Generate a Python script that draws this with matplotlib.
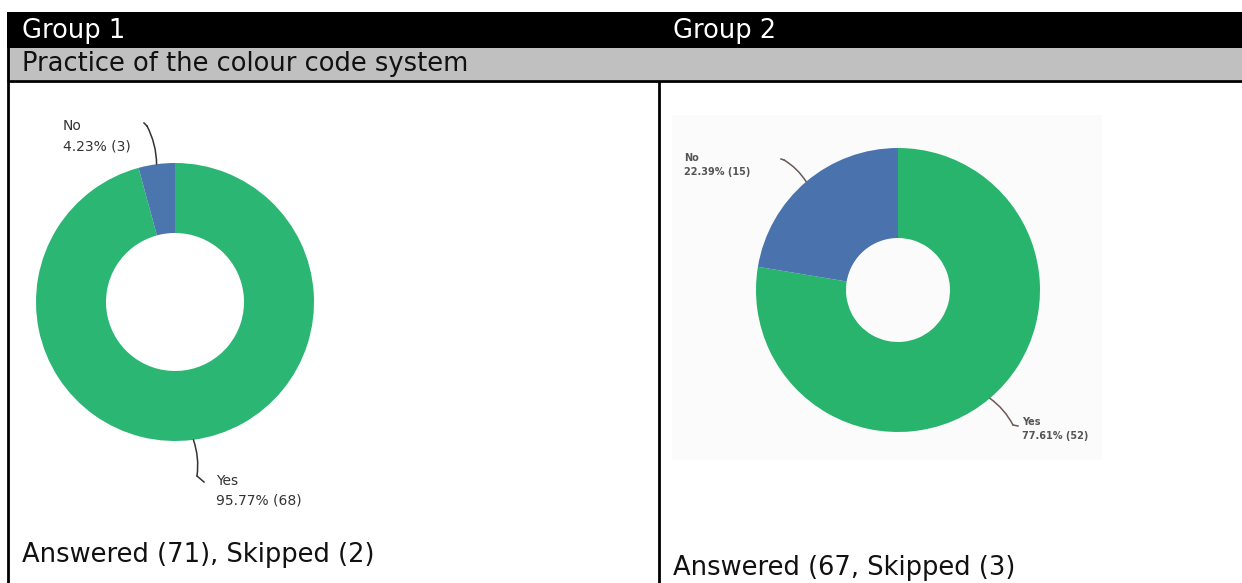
import matplotlib.pyplot as plt
from matplotlib.patches import Rectangle
import numpy as np

# survey answers: practice of the colour code system
answers = ['Yes', 'No']
group1_counts = [68, 3]
group1_pct = [95.77, 4.23]
group2_counts = [52, 15]
group2_pct = [77.61, 22.39]

headers = ['Group 1', 'Group 2']
question = 'Practice of the colour code system'
footers = ['Answered (71), Skipped (2)', 'Answered (67, Skipped (3)']

W, H = 1242, 583
fig = plt.figure(figsize=(W / 100, H / 100), dpi=100)
fig.patch.set_facecolor('white')

# table frame drawn in pixel units
tab = fig.add_axes([0, 0, 1, 1])
tab.set_xlim(0, W)
tab.set_ylim(H, 0)
tab.axis('off')

tab.add_patch(Rectangle((7, 12), W - 7, 36, color='black', lw=0))
tab.add_patch(Rectangle((7, 48), W - 7, 32, color='#c0c0c0', lw=0))
tab.plot([7, W], [81, 81], color='black', lw=2, solid_capstyle='butt')
tab.plot([8, 8], [12, H], color='black', lw=2, solid_capstyle='butt')
tab.plot([659, 659], [81, H], color='black', lw=2, solid_capstyle='butt')
# faint backdrop of the pasted group 2 chart
tab.add_patch(Rectangle((672, 115), 430, 345, color='#fbfbfb', lw=0))

hfont = 'DejaVu Sans'
hsize = 18.5
tab.text(22, 31, headers[0], color='white', fontsize=hsize, family=hfont, va='center')
tab.text(673, 31, headers[1], color='white', fontsize=hsize, family=hfont, va='center')
tab.text(22, 64, question, color='#111111', fontsize=hsize, family=hfont, va='center')
tab.text(22, 555, footers[0], color='#111111', fontsize=hsize, family=hfont, va='center')
tab.text(673, 568, footers[1], color='#111111', fontsize=hsize, family=hfont, va='center')


def donut(cx, cy, r, inner, counts, pct, colors, lab_pos, elbows, hooks,
          fsize, tcolor, lcolor, weight, lsp):
    ax = fig.add_axes([(cx - r) / W, 1 - (cy + r) / H, 2 * r / W, 2 * r / H])
    wedges, _ = ax.pie(counts, colors=colors, startangle=90, counterclock=False,
                       radius=1, wedgeprops=dict(width=1 - inner / r, lw=0))
    ax.set_xlim(-1, 1)
    ax.set_ylim(-1, 1)
    ax.axis('off')

    def px(x, y):
        return ((x - cx) / r, (cy - y) / r)

    for i, w in enumerate(wedges):
        ang = np.deg2rad((w.theta1 + w.theta2) / 2)
        tip = (np.cos(ang), np.sin(ang))
        ex, ey = px(*elbows[i])
        ax.annotate('', xy=tip, xytext=(ex, ey), annotation_clip=False,
                    arrowprops=dict(arrowstyle='-', color=lcolor, lw=1.1,
                                    shrinkA=0, shrinkB=0,
                                    connectionstyle='arc3,rad=-0.12' if i else 'arc3,rad=0.12'))
        hx, hy = px(*hooks[i])
        ax.plot([ex, hx], [ey, hy], color=lcolor, lw=1.1, clip_on=False)
        tx, ty = px(*lab_pos[i])
        ax.text(tx, ty, answers[i], fontsize=fsize, color=tcolor, weight=weight,
                family='DejaVu Sans', va='center', ha='left', clip_on=False)
        tx2, ty2 = px(lab_pos[i][0], lab_pos[i][1] + lsp)
        ax.text(tx2, ty2, f'{pct[i]:.2f}% ({counts[i]})', fontsize=fsize,
                color=tcolor, weight=weight, family='DejaVu Sans', va='center',
                ha='left', clip_on=False)
    return ax


donut(175, 302, 139, 69, group1_counts, group1_pct, ['#2bb673', '#4a76ad'],
      lab_pos=[(216, 481), (63, 126)],
      elbows=[(197, 476), (147, 126)],
      hooks=[(204, 482), (144, 123)],
      fsize=10, tcolor='#333333', lcolor='#333333', weight='normal', lsp=20)

donut(898, 290, 142, 52, group2_counts, group2_pct, ['#28b46c', '#4a73ad'],
      lab_pos=[(1022, 422), (684, 158)],
      elbows=[(1013, 425), (784, 160)],
      hooks=[(1018, 426), (781, 159)],
      fsize=7, tcolor='#555555', lcolor='#6b5a55', weight='bold', lsp=14)

fig.savefig('out.png', dpi=100)
